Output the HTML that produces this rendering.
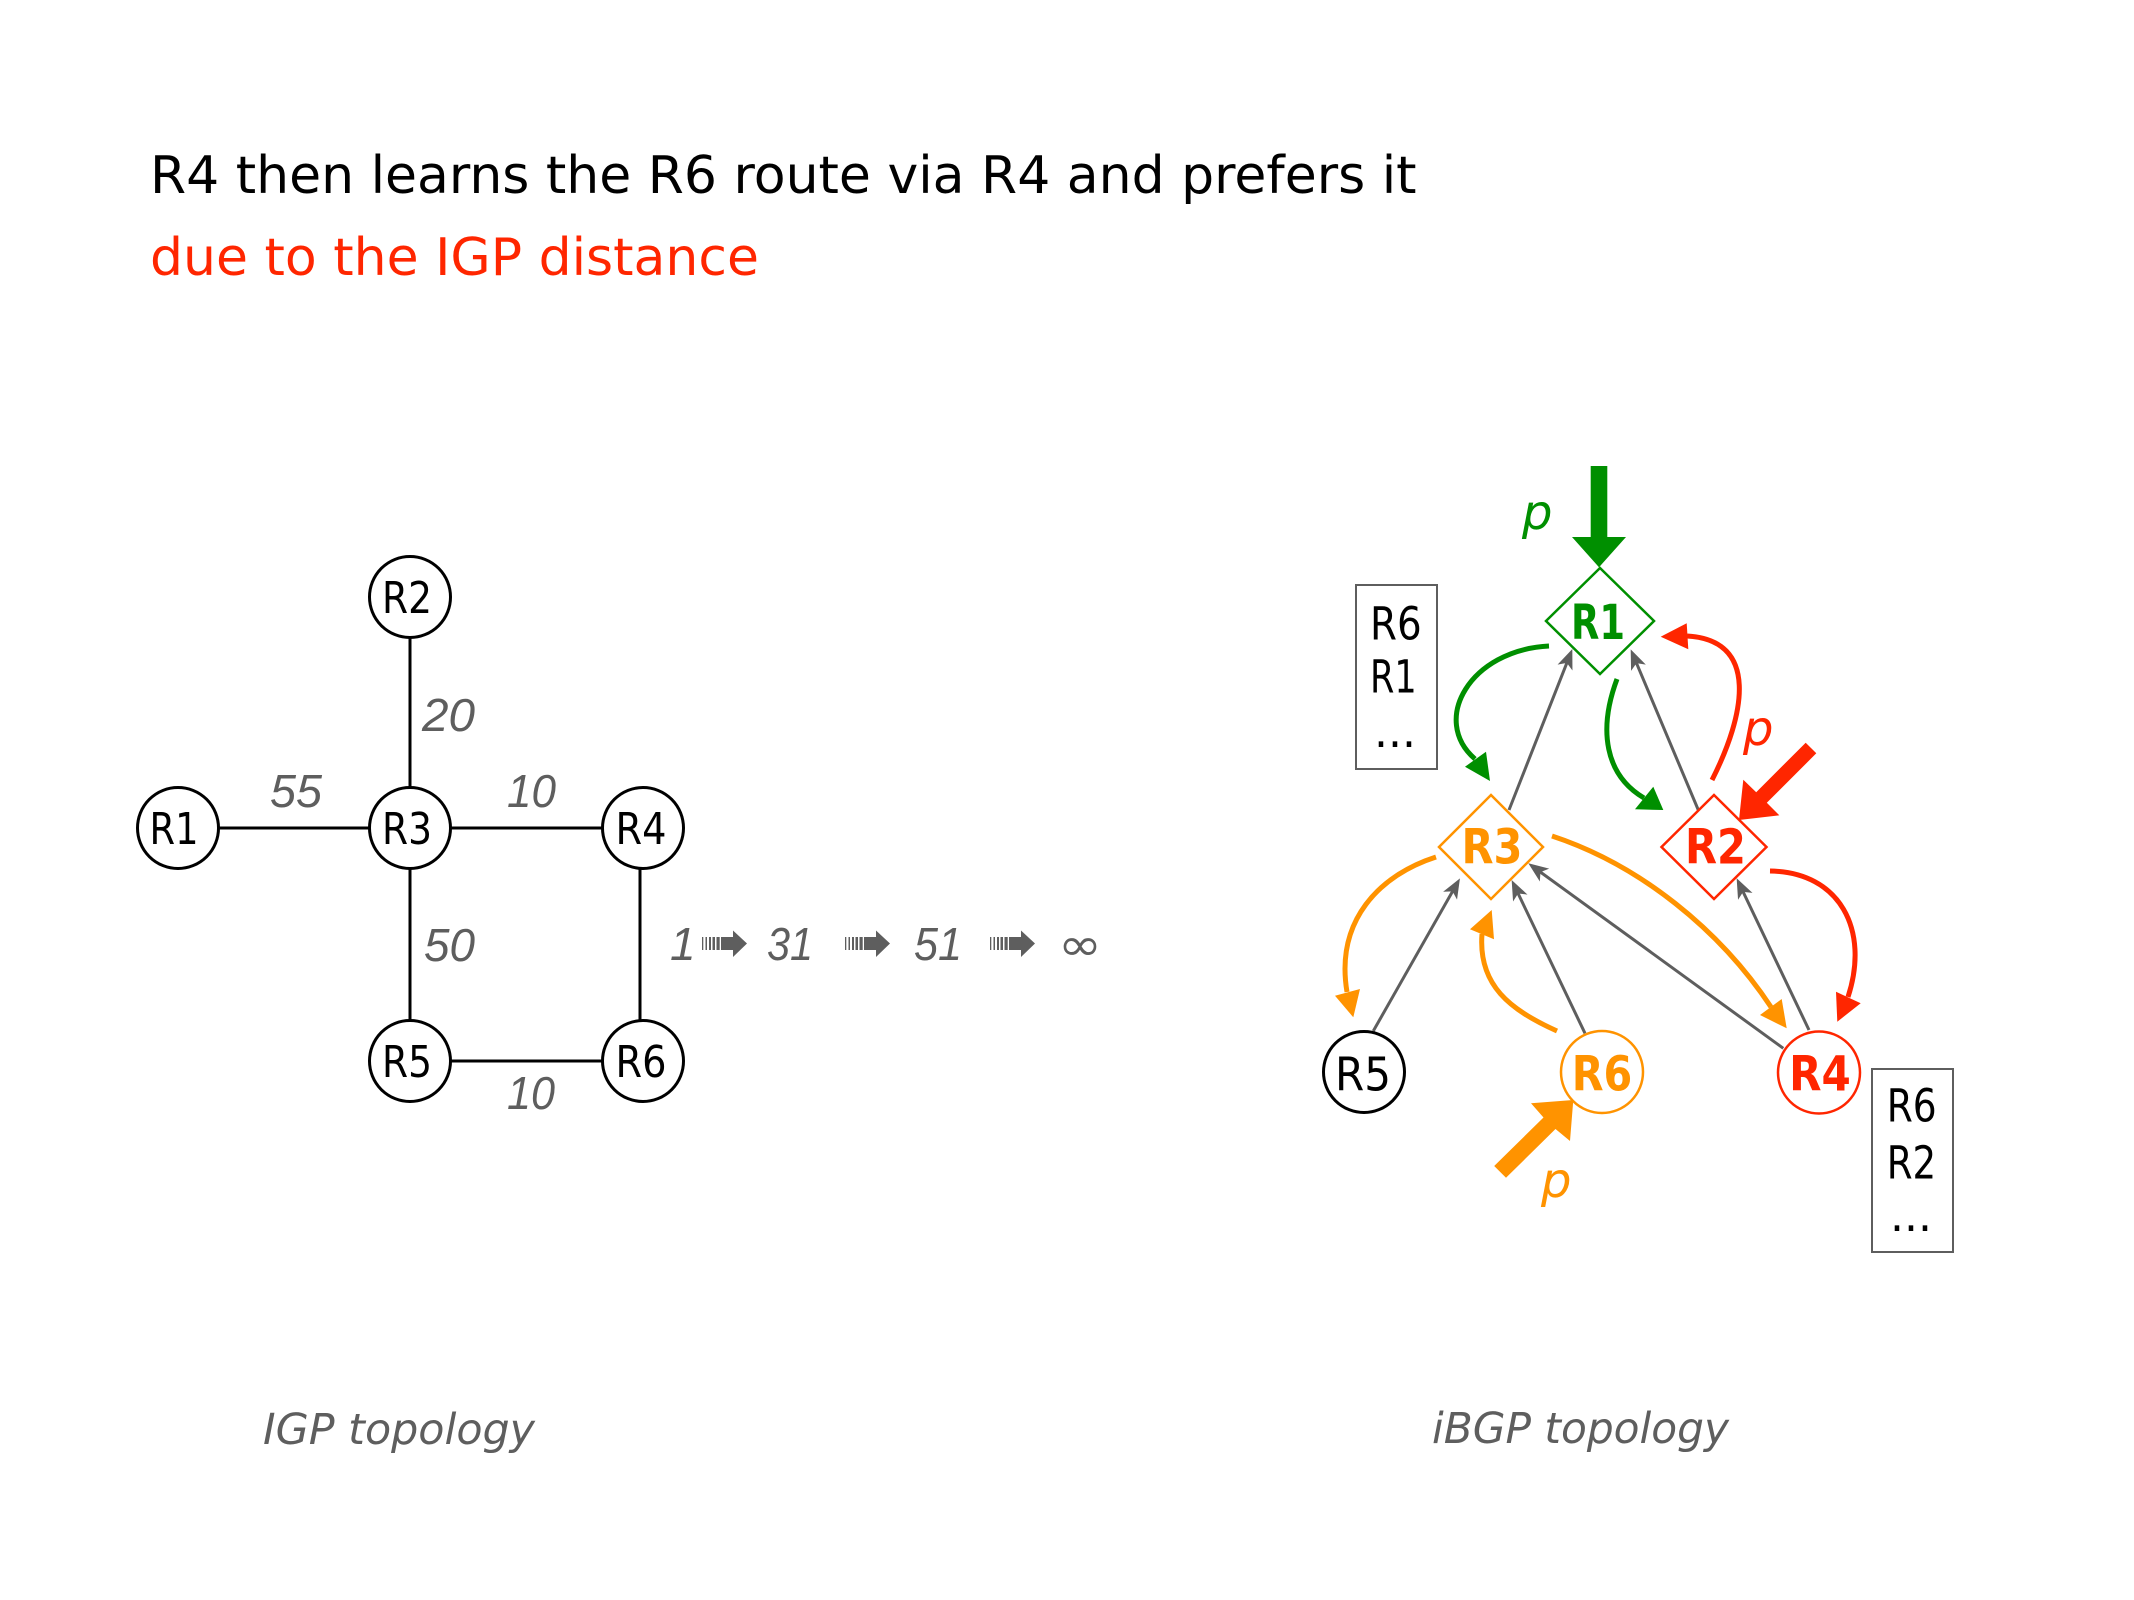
<!DOCTYPE html>
<html>
<head>
<meta charset="utf-8">
<style>
  html,body{margin:0;padding:0;background:#fff;}
  svg{display:block;}
  .t{font-family:"DejaVu Sans","Liberation Sans",sans-serif;}
  .it{font-family:"DejaVu Sans","Liberation Sans",sans-serif;font-style:italic;fill:#5e5e5e;}
  .dg{font-family:"Liberation Sans","DejaVu Sans",sans-serif;font-style:italic;fill:#5e5e5e;}
</style>
</head>
<body>
<svg width="2134" height="1600" viewBox="0 0 2134 1600" xmlns="http://www.w3.org/2000/svg">
  <defs>
    <marker id="ga" viewBox="-14 -10 24 20" refX="0" refY="0" markerWidth="24" markerHeight="20" markerUnits="userSpaceOnUse" orient="auto">
      <path d="M8,0 L-12,-8 L-7,0 L-12,8 Z" fill="#5e5e5e"/>
    </marker>
  </defs>
  <rect width="2134" height="1600" fill="#fff"/>

  <!-- Title -->
  <text class="t" x="150" y="193" font-size="52" fill="#000">R4 then learns the R6 route via R4 and prefers it</text>
  <text class="t" x="150" y="275" font-size="52" fill="#ff2600">due to the IGP distance</text>

  <!-- IGP topology edges -->
  <g stroke="#000" stroke-width="3" fill="none">
    <line x1="410" y1="597" x2="410" y2="828"/>
    <line x1="178" y1="828" x2="410" y2="828"/>
    <line x1="410" y1="828" x2="643" y2="828"/>
    <line x1="410" y1="828" x2="410" y2="1061"/>
    <line x1="640" y1="828" x2="640" y2="1061"/>
    <line x1="410" y1="1061" x2="643" y2="1061"/>
  </g>
  <g stroke="#000" stroke-width="3" fill="#fff">
    <circle cx="410" cy="597" r="40.5"/>
    <circle cx="178" cy="828" r="40.5"/>
    <circle cx="410" cy="828" r="40.5"/>
    <circle cx="643" cy="828" r="40.5"/>
    <circle cx="410" cy="1061" r="40.5"/>
    <circle cx="643" cy="1061" r="40.5"/>
  </g>
  <g class="t" font-size="43.5" fill="#000" text-anchor="middle">
    <text x="407" y="613" textLength="50" lengthAdjust="spacingAndGlyphs">R2</text>
    <text x="174" y="844" textLength="49" lengthAdjust="spacingAndGlyphs">R1</text>
    <text x="407" y="844" textLength="50" lengthAdjust="spacingAndGlyphs">R3</text>
    <text x="641" y="844" textLength="51" lengthAdjust="spacingAndGlyphs">R4</text>
    <text x="407" y="1077" textLength="50" lengthAdjust="spacingAndGlyphs">R5</text>
    <text x="641" y="1077" textLength="51" lengthAdjust="spacingAndGlyphs">R6</text>
  </g>
  <!-- IGP weights -->
  <g class="dg" font-size="46">
    <text x="422" y="731" textLength="53" lengthAdjust="spacingAndGlyphs">20</text>
    <text x="270" y="807" textLength="52" lengthAdjust="spacingAndGlyphs">55</text>
    <text x="507" y="807" textLength="49" lengthAdjust="spacingAndGlyphs">10</text>
    <text x="424" y="961" textLength="51" lengthAdjust="spacingAndGlyphs">50</text>
    <text x="507" y="1109" textLength="48" lengthAdjust="spacingAndGlyphs">10</text>
  </g>

  <!-- 1 -> 31 -> 51 -> inf -->
  <g class="dg" font-size="46">
    <text x="670" y="960">1</text>
    <text x="767" y="960" textLength="46" lengthAdjust="spacingAndGlyphs">31</text>
    <text x="914" y="960" textLength="48" lengthAdjust="spacingAndGlyphs">51</text>
  </g>
  <text class="it" x="1058" y="960" font-size="45" textLength="44" lengthAdjust="spacingAndGlyphs">∞</text>
  <g fill="#5e5e5e">
    <g transform="translate(702,0)">
      <rect x="0" y="937" width="1.3" height="13"/>
      <rect x="3.5" y="937" width="1.5" height="13"/>
      <rect x="7" y="937" width="2" height="13"/>
      <rect x="10.5" y="937" width="2.5" height="13"/>
      <rect x="14.5" y="937" width="3.2" height="13"/>
      <rect x="19" y="937" width="13" height="13"/>
      <polygon points="31,930.5 45,943.5 31,957"/>
    </g>
    <g transform="translate(845,0)">
      <rect x="0" y="937" width="1.3" height="13"/>
      <rect x="3.5" y="937" width="1.5" height="13"/>
      <rect x="7" y="937" width="2" height="13"/>
      <rect x="10.5" y="937" width="2.5" height="13"/>
      <rect x="14.5" y="937" width="3.2" height="13"/>
      <rect x="19" y="937" width="13" height="13"/>
      <polygon points="31,930.5 45,943.5 31,957"/>
    </g>
    <g transform="translate(990,0)">
      <rect x="0" y="937" width="1.3" height="13"/>
      <rect x="3.5" y="937" width="1.5" height="13"/>
      <rect x="7" y="937" width="2" height="13"/>
      <rect x="10.5" y="937" width="2.5" height="13"/>
      <rect x="14.5" y="937" width="3.2" height="13"/>
      <rect x="19" y="937" width="13" height="13"/>
      <polygon points="31,930.5 45,943.5 31,957"/>
    </g>
  </g>

  <!-- iBGP gray session arrows -->
  <g stroke="#5e5e5e" stroke-width="3" fill="none" marker-end="url(#ga)">
    <line x1="1509" y1="810" x2="1569.4" y2="656.4"/>
    <line x1="1698.3" y1="810" x2="1633.8" y2="656.7"/>
    <line x1="1373.3" y1="1031" x2="1456.0" y2="885.3"/>
    <line x1="1585" y1="1033.3" x2="1515.1" y2="887.2"/>
    <line x1="1783.3" y1="1048.3" x2="1534.8" y2="868.0"/>
    <line x1="1809" y1="1030" x2="1740.1" y2="885.5"/>
  </g>

  <!-- colored curved arrows -->
  <g fill="none" stroke-width="5">
    <path d="M1549,646 C1470,650 1430,720 1475,759" stroke="#008f00"/>
    <path d="M1617,679 C1598,730 1605,775 1644,798" stroke="#008f00"/>
    <path d="M1712,780 C1745,715 1760,640 1687,636" stroke="#ff2600"/>
    <path d="M1770,871 C1840,872 1870,930 1848,997" stroke="#ff2600"/>
    <path d="M1436,857 C1380,875 1335,920 1347,992" stroke="#ff9300"/>
    <path d="M1557,1031 C1510,1010 1478,985 1482,934" stroke="#ff9300"/>
    <path d="M1552,836 C1640,865 1720,930 1771,1007" stroke="#ff9300"/>
  </g>
  <polygon points="1465,766.7 1486,751.7 1490,781" fill="#008f00"/>
  <polygon points="1635,809.3 1653.3,786.7 1663.3,810" fill="#008f00"/>
  <polygon points="1686.7,623.3 1688.3,649.3 1660.7,636.7" fill="#ff2600"/>
  <polygon points="1836,991.7 1860.7,1003.3 1837.3,1021.7" fill="#ff2600"/>
  <polygon points="1335,995.7 1360,989 1353.3,1017.3" fill="#ff9300"/>
  <polygon points="1470,929.3 1494,939.3 1491.7,910" fill="#ff9300"/>
  <polygon points="1760,1015 1781.7,999 1786.7,1028.3" fill="#ff9300"/>

  <!-- big injection arrows -->
  <polygon points="1590.7,466 1607.3,466 1607.3,537 1626,537 1599,567.3 1572,537 1590.7,537" fill="#008f00"/>
  <polygon points="1816.3,753.3 1766.8,802.8 1779.3,815.3 1739,820 1743.3,779.7 1756.2,792.2 1805.7,742.7" fill="#ff2600"/>
  <polygon points="1494.2,1166 1543.5,1117.5 1531,1103.3 1573.3,1100 1570,1141 1555.5,1129 1506,1177.8" fill="#ff9300"/>

  <!-- diamonds -->
  <polygon points="1600,568 1654,621 1600,674 1546,621" fill="#fff" stroke="#008f00" stroke-width="2.5"/>
  <polygon points="1491,795 1543,847 1491,899 1439,847" fill="#fff" stroke="#ff9300" stroke-width="2.5"/>
  <polygon points="1714,795 1766.5,847 1714,899 1661.5,847" fill="#fff" stroke="#ff2600" stroke-width="2.5"/>

  <!-- circles iBGP -->
  <circle cx="1364" cy="1072" r="40.5" fill="#fff" stroke="#000" stroke-width="3"/>
  <circle cx="1602" cy="1072" r="41" fill="#fff" stroke="#ff9300" stroke-width="2.5"/>
  <circle cx="1819" cy="1072.5" r="41" fill="#fff" stroke="#ff2600" stroke-width="2.5"/>

  <!-- node labels iBGP -->
  <g class="t" font-weight="bold" font-size="48" text-anchor="middle">
    <text x="1598" y="639" fill="#008f00" textLength="54" lengthAdjust="spacingAndGlyphs">R1</text>
    <text x="1715.5" y="863.3" fill="#ff2600" textLength="61" lengthAdjust="spacingAndGlyphs">R2</text>
    <text x="1492" y="863.3" fill="#ff9300" textLength="61" lengthAdjust="spacingAndGlyphs">R3</text>
    <text x="1602" y="1090.7" fill="#ff9300" textLength="60.6" lengthAdjust="spacingAndGlyphs">R6</text>
    <text x="1820" y="1090.7" fill="#ff2600" textLength="61.7" lengthAdjust="spacingAndGlyphs">R4</text>
  </g>
  <text class="t" x="1363" y="1090.7" font-size="46" text-anchor="middle" fill="#000" textLength="56" lengthAdjust="spacingAndGlyphs">R5</text>

  <!-- p labels -->
  <g class="t" font-style="italic" font-size="48">
    <text x="1522" y="529" fill="#008f00">p</text>
    <text x="1743" y="745" fill="#ff2600">p</text>
    <text x="1541" y="1197" fill="#ff9300">p</text>
  </g>

  <!-- RIB boxes -->
  <rect x="1356" y="585" width="81" height="184" fill="none" stroke="#5e5e5e" stroke-width="2"/>
  <g class="t" font-size="45" fill="#000">
    <text x="1370" y="639.3" textLength="51.7" lengthAdjust="spacingAndGlyphs">R6</text>
    <text x="1370" y="692.7" textLength="46.7" lengthAdjust="spacingAndGlyphs">R1</text>
    <text x="1374" y="747" textLength="42" lengthAdjust="spacingAndGlyphs">...</text>
  </g>
  <rect x="1872" y="1069" width="81" height="183" fill="none" stroke="#5e5e5e" stroke-width="2"/>
  <g class="t" font-size="45" fill="#000">
    <text x="1886.7" y="1121.7" textLength="50" lengthAdjust="spacingAndGlyphs">R6</text>
    <text x="1886.7" y="1178.3" textLength="49.5" lengthAdjust="spacingAndGlyphs">R2</text>
    <text x="1890" y="1231" textLength="42" lengthAdjust="spacingAndGlyphs">...</text>
  </g>

  <!-- captions -->
  <text class="it" x="263" y="1444" font-size="43" textLength="272" lengthAdjust="spacingAndGlyphs">IGP topology</text>
  <text class="it" x="1432" y="1443" font-size="43" textLength="297" lengthAdjust="spacingAndGlyphs">iBGP topology</text>
</svg>
</body>
</html>
